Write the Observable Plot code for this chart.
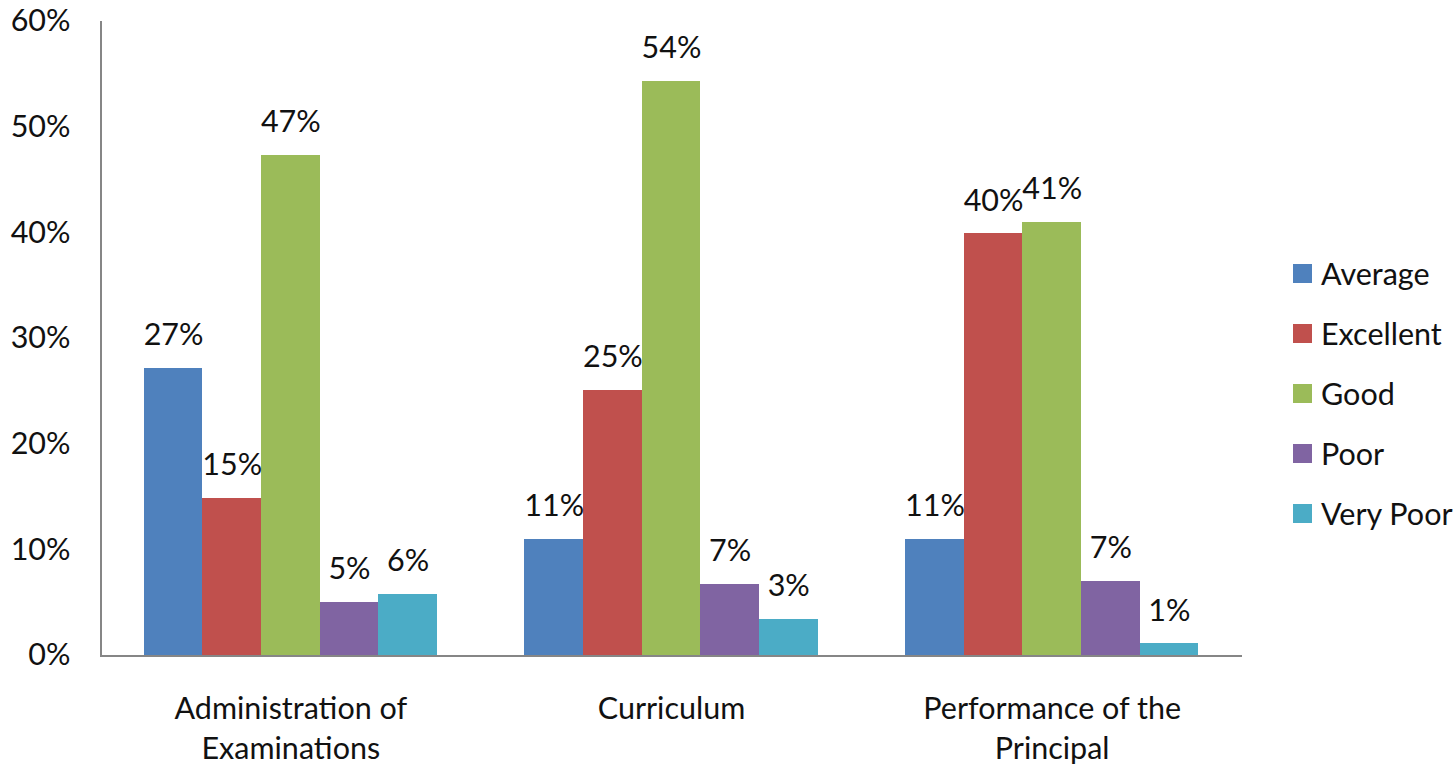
<!DOCTYPE html>
<html>
<head>
<meta charset="utf-8">
<script src="https://cdn.jsdelivr.net/npm/d3@7"></script>
<script src="https://cdn.jsdelivr.net/npm/@observablehq/plot@0.6"></script>
<style>
  html, body { margin: 0; padding: 0; background: #fff; }
  #wrap { position: relative; width: 1454px; height: 765px; font-family: Lato, "Open Sans", sans-serif; }
  #legend { position: absolute; left: 1293px; top: 243px; }
  .row { display: flex; align-items: center; height: 60px; font-size: 30.5px; color: #111; white-space: nowrap; }
  .sw { width: 19px; height: 19px; margin-right: 9px; }
</style>
</head>
<body>
<div id="wrap"><div id="legend"></div></div>
<script>
const categories = ["Administration of Examinations", "Curriculum", "Performance of the Principal"];
const categoryLabels = ["Administration of\nExaminations", "Curriculum", "Performance of the\nPrincipal"];
const series = ["Average", "Excellent", "Good", "Poor", "Very Poor"];
const colors = ["#4F81BD", "#C0504D", "#9BBB59", "#8064A2", "#4BACC6"];
const administration = [0.272, 0.149, 0.473, 0.050, 0.058];
const curriculum = [0.110, 0.251, 0.543, 0.067, 0.034];
const principal = [0.110, 0.399, 0.410, 0.070, 0.011];
const yTicks = [0, 0.1, 0.2, 0.3, 0.4, 0.5, 0.6];

const valuesByCategory = [administration, curriculum, principal];
const data = [];
categories.forEach((c, i) => series.forEach((s, j) => data.push({category: c, series: s, value: valuesByCategory[i][j]})));

const pct = d3.format(".0%");
const labelOf = new Map(categories.map((c, i) => [c, categoryLabels[i]]));
const font = "Lato, 'Open Sans', sans-serif";
const fs = 30.5;
const W = 1454, ML = 100, MR = 212, PI = 0.23;
const half = (PI / 2) * (W - ML - MR) / categories.length; // half gap between facet bands

const chart = Plot.plot({
  width: W,
  height: 765,
  marginTop: 21,
  marginBottom: 110,
  marginLeft: ML,
  marginRight: MR,
  style: {fontFamily: font, fontSize: fs + "px", color: "#111", background: "transparent"},
  fx: {domain: categories, paddingInner: PI, paddingOuter: PI / 2, round: false, label: null},
  x: {domain: series, padding: 0, round: false, axis: null},
  y: {domain: [0, 0.6], label: null},
  color: {domain: series, range: colors},
  marks: [
    Plot.barY(data, {fx: "category", x: "series", y: "value", fill: "series", shapeRendering: "crispEdges"}),
    Plot.text(data, {fx: "category", x: "series", y: "value", text: d => pct(d.value), dy: -33, lineAnchor: "middle", fontSize: fs, fill: "#111"}),
    Plot.ruleY([0], {stroke: "#868686", strokeWidth: 2, shapeRendering: "crispEdges", insetLeft: -half, insetRight: -half}),
    Plot.frame({anchor: "left", facetAnchor: "left", dx: -half, stroke: "#868686", strokeWidth: 2, shapeRendering: "crispEdges"}),
    Plot.axisY({ticks: yTicks, tickFormat: pct, tickSize: 0, tickPadding: 30, fontSize: fs, label: null, facetAnchor: "left", dx: -half}),
    Plot.axisFx({anchor: "bottom", tickSize: 0, tickPadding: 35, fontSize: fs, lineHeight: 1.31, tickFormat: d => labelOf.get(d), label: null})
  ]
});
document.getElementById("wrap").prepend(chart);

const legend = document.getElementById("legend");
series.forEach((s, i) => {
  const row = document.createElement("div");
  row.className = "row";
  const sw = document.createElement("div");
  sw.className = "sw";
  sw.style.background = colors[i];
  const t = document.createElement("span");
  t.textContent = s;
  row.append(sw, t);
  legend.append(row);
});
</script>
</body>
</html>
